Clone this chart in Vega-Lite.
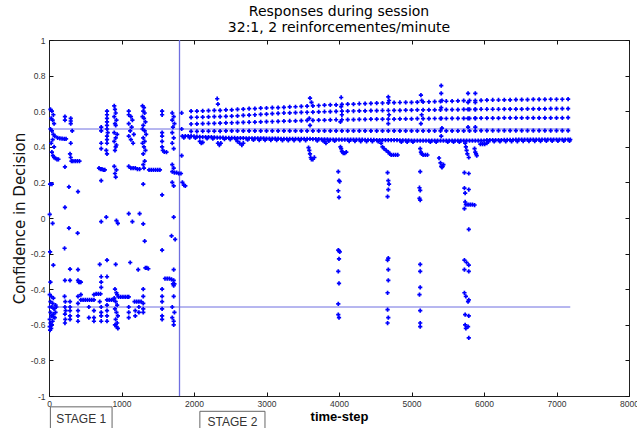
{
 "$schema": "https://vega.github.io/schema/vega-lite/v6.json",
 "width": 580, "height": 356,
 "autosize": {"type": "none"},
 "padding": {"left": 49, "top": 40, "right": 8, "bottom": 32},
 "background": "white",
 "config": {"view": {"stroke": "#222", "strokeWidth": 1}, "font": "Liberation Sans"},
 "title": {"text": "Responses during session", "subtitle": "32:1, 2 reinforcementes/minute", "font": "DejaVu Sans", "fontSize": 14, "fontWeight": "normal", "color": "#000", "subtitleFont": "DejaVu Sans", "subtitleFontSize": 14, "subtitleColor": "#000", "subtitlePadding": 2, "offset": 1, "anchor": "middle"},
 "datasets": {
  "one": [{}],
  "pts": [
   {"t":20,"c":0.61},{"t":40,"c":0.6},{"t":60,"c":0.58},{"t":30,"c":0.56},{"t":50,"c":0.55},{"t":70,"c":0.53},{"t":20,"c":0.5},{"t":40,"c":0.49},{"t":60,"c":0.47},{"t":80,"c":0.46},{"t":50,"c":0.44},{"t":30,"c":0.42},{"t":70,"c":0.4},
   {"t":120,"c":0.45},{"t":150,"c":0.448},{"t":180,"c":0.446},{"t":210,"c":0.445},{"t":235,"c":0.445},
   {"t":40,"c":0.37},{"t":55,"c":0.35},{"t":70,"c":0.34},{"t":90,"c":0.335},{"t":110,"c":0.33},{"t":130,"c":0.33},
   {"t":15,"c":0.19},{"t":40,"c":0.19},{"t":10,"c":0.02},{"t":50,"c":-0.03},{"t":15,"c":-0.19},{"t":60,"c":-0.265},{"t":20,"c":-0.36},
   {"t":10,"c":-0.43},{"t":30,"c":-0.44},{"t":60,"c":-0.45},{"t":20,"c":-0.47},{"t":50,"c":-0.48},{"t":90,"c":-0.49},{"t":10,"c":-0.5},{"t":40,"c":-0.5},{"t":70,"c":-0.51},{"t":100,"c":-0.5},{"t":20,"c":-0.53},{"t":60,"c":-0.54},{"t":30,"c":-0.55},{"t":80,"c":-0.56},{"t":10,"c":-0.57},{"t":50,"c":-0.58},{"t":20,"c":-0.59},{"t":40,"c":-0.6},{"t":10,"c":-0.61},{"t":30,"c":-0.62},{"t":15,"c":-0.63},{"t":60,"c":-0.555},{"t":90,"c":-0.53},
   {"t":220,"c":0.57},{"t":220,"c":0.55},{"t":220,"c":0.287},{"t":220,"c":0.06},{"t":215,"c":-0.17},{"t":220,"c":-0.35},{"t":215,"c":-0.44},{"t":225,"c":-0.47},{"t":220,"c":-0.5},{"t":230,"c":-0.52},{"t":220,"c":-0.54},{"t":225,"c":-0.57},{"t":220,"c":-0.59},
   {"t":300,"c":0.56},{"t":300,"c":0.545},{"t":300,"c":0.53},{"t":320,"c":0.49},{"t":300,"c":0.42},{"t":290,"c":0.36},{"t":300,"c":0.34},{"t":310,"c":0.32},{"t":330,"c":0.32},{"t":360,"c":0.32},{"t":390,"c":0.32},{"t":420,"c":0.32},
   {"t":275,"c":0.175},{"t":400,"c":0.148},{"t":275,"c":-0.057},{"t":395,"c":-0.085},{"t":290,"c":-0.287},{"t":400,"c":-0.29},{"t":290,"c":-0.35},{"t":400,"c":-0.35},{"t":410,"c":-0.36},{"t":425,"c":-0.36},{"t":440,"c":-0.36},
   {"t":290,"c":-0.47},{"t":290,"c":-0.5},{"t":290,"c":-0.52},{"t":290,"c":-0.55},{"t":290,"c":-0.57},{"t":400,"c":-0.44},{"t":400,"c":-0.48},{"t":400,"c":-0.52},{"t":400,"c":-0.55},{"t":400,"c":-0.58},
   {"t":440,"c":-0.46},{"t":470,"c":-0.46},{"t":500,"c":-0.46},{"t":530,"c":-0.46},{"t":560,"c":-0.46},{"t":590,"c":-0.46},{"t":620,"c":-0.46},{"t":440,"c":-0.43},{"t":620,"c":-0.43},{"t":650,"c":-0.426},{"t":680,"c":-0.426},{"t":710,"c":-0.426},{"t":620,"c":-0.52},{"t":620,"c":-0.56},{"t":620,"c":-0.58},{"t":550,"c":-0.5},{"t":550,"c":-0.56},
   {"t":720,"c":0.51},{"t":720,"c":0.49},{"t":720,"c":0.42},{"t":720,"c":0.39},{"t":690,"c":0.28},{"t":710,"c":0.275},{"t":730,"c":0.275},{"t":750,"c":0.27},{"t":770,"c":0.27},{"t":720,"c":0.21},{"t":720,"c":-0.02},{"t":700,"c":-0.26},{"t":720,"c":-0.33},{"t":720,"c":-0.36},{"t":720,"c":-0.39},{"t":720,"c":-0.5},{"t":720,"c":-0.53},{"t":720,"c":-0.55},{"t":720,"c":-0.58},{"t":700,"c":-0.47},
   {"t":800,"c":0.6},{"t":800,"c":0.58},{"t":800,"c":0.56},{"t":800,"c":0.54},{"t":800,"c":0.52},{"t":800,"c":0.5},{"t":810,"c":0.48},{"t":800,"c":0.46},{"t":800,"c":0.44},{"t":800,"c":0.42},{"t":790,"c":0.38},{"t":800,"c":0.36},{"t":790,"c":0.005},{"t":800,"c":-0.237},{"t":800,"c":-0.33},{"t":800,"c":-0.46},{"t":800,"c":-0.49},{"t":800,"c":-0.52},{"t":800,"c":-0.55},{"t":800,"c":-0.58},{"t":830,"c":-0.46},{"t":860,"c":-0.46},{"t":890,"c":-0.46},
   {"t":900,"c":0.63},{"t":910,"c":0.61},{"t":920,"c":0.59},{"t":900,"c":0.57},{"t":930,"c":0.55},{"t":910,"c":0.53},{"t":920,"c":0.52},{"t":900,"c":0.48},{"t":940,"c":0.47},{"t":920,"c":0.45},{"t":900,"c":0.43},{"t":930,"c":0.41},{"t":920,"c":0.4},{"t":910,"c":0.38},{"t":900,"c":0.29},{"t":930,"c":0.27},{"t":910,"c":0.25},{"t":920,"c":0.23},{"t":930,"c":-0.015},{"t":950,"c":-0.03},{"t":920,"c":-0.26},{"t":910,"c":-0.4},{"t":930,"c":-0.42},{"t":940,"c":-0.43},
   {"t":900,"c":-0.45},{"t":920,"c":-0.47},{"t":940,"c":-0.49},{"t":910,"c":-0.51},{"t":930,"c":-0.53},{"t":950,"c":-0.55},{"t":920,"c":-0.57},{"t":940,"c":-0.59},{"t":910,"c":-0.6},{"t":930,"c":-0.61},{"t":950,"c":-0.62},
   {"t":960,"c":-0.443},{"t":990,"c":-0.443},{"t":1020,"c":-0.443},{"t":1050,"c":-0.443},{"t":1080,"c":-0.443},{"t":1100,"c":-0.443},
   {"t":1100,"c":0.6},{"t":1100,"c":0.58},{"t":1130,"c":0.57},{"t":1150,"c":0.55},{"t":1100,"c":0.53},{"t":1140,"c":0.51},{"t":1120,"c":0.49},{"t":1170,"c":0.47},{"t":1100,"c":0.46},{"t":1130,"c":0.44},{"t":1160,"c":0.42},
   {"t":1100,"c":0.29},{"t":1130,"c":0.28},{"t":1160,"c":0.28},{"t":1190,"c":0.28},{"t":1220,"c":0.275},{"t":1250,"c":0.275},{"t":1100,"c":0.025},{"t":1150,"c":-0.02},{"t":1250,"c":0.025},{"t":1120,"c":-0.25},{"t":1230,"c":-0.29},
   {"t":1180,"c":-0.47},{"t":1210,"c":-0.47},{"t":1240,"c":-0.47},{"t":1270,"c":-0.47},{"t":1100,"c":-0.5},{"t":1100,"c":-0.53},{"t":1100,"c":-0.56},{"t":1190,"c":-0.52},{"t":1190,"c":-0.55},{"t":1240,"c":-0.5},{"t":1240,"c":-0.53},
   {"t":1290,"c":0.63},{"t":1310,"c":0.62},{"t":1300,"c":0.6},{"t":1320,"c":0.59},{"t":1290,"c":0.57},{"t":1310,"c":0.56},{"t":1330,"c":0.54},{"t":1300,"c":0.52},{"t":1290,"c":0.5},{"t":1320,"c":0.49},{"t":1340,"c":0.47},{"t":1300,"c":0.45},{"t":1320,"c":0.43},{"t":1290,"c":0.42},{"t":1310,"c":0.4},{"t":1330,"c":0.38},{"t":1300,"c":0.36},{"t":1320,"c":0.32},{"t":1300,"c":0.3},{"t":1310,"c":0.28},
   {"t":1300,"c":0.19},{"t":1300,"c":-0.033},{"t":1320,"c":-0.13},{"t":1330,"c":-0.28},{"t":1350,"c":-0.28},{"t":1370,"c":-0.285},{"t":1300,"c":-0.4},{"t":1300,"c":-0.44},{"t":1300,"c":-0.48},{"t":1300,"c":-0.51},{"t":1300,"c":-0.53},
   {"t":1380,"c":0.27},{"t":1410,"c":0.27},{"t":1440,"c":0.27},{"t":1470,"c":0.27},{"t":1500,"c":0.27},{"t":1530,"c":0.27},
   {"t":1560,"c":0.6},{"t":1560,"c":0.58},{"t":1560,"c":0.48},{"t":1560,"c":0.46},{"t":1560,"c":0.43},{"t":1560,"c":0.4},{"t":1570,"c":0.38},{"t":1590,"c":0.372},{"t":1620,"c":0.37},{"t":1560,"c":0.13},{"t":1560,"c":-0.18},
   {"t":1600,"c":-0.34},{"t":1630,"c":-0.34},{"t":1660,"c":-0.34},{"t":1690,"c":-0.345},{"t":1720,"c":-0.35},{"t":1560,"c":-0.4},{"t":1560,"c":-0.44},{"t":1560,"c":-0.47},{"t":1560,"c":-0.51},{"t":1560,"c":-0.55},{"t":1560,"c":-0.57},
   {"t":1700,"c":0.59},{"t":1720,"c":0.57},{"t":1700,"c":0.55},{"t":1730,"c":0.53},{"t":1710,"c":0.51},{"t":1700,"c":0.48},{"t":1720,"c":0.45},{"t":1700,"c":0.42},{"t":1720,"c":0.39},{"t":1700,"c":0.3},{"t":1720,"c":0.28},{"t":1700,"c":0.26},{"t":1730,"c":0.255},{"t":1760,"c":0.255},{"t":1790,"c":0.25},{"t":1820,"c":0.25},
   {"t":1700,"c":0.2},{"t":1720,"c":0.18},{"t":1720,"c":0.005},{"t":1690,"c":-0.1},{"t":1740,"c":-0.12},{"t":1720,"c":-0.29},{"t":1710,"c":-0.37},{"t":1730,"c":-0.37},{"t":1720,"c":-0.38},{"t":1720,"c":-0.44},{"t":1700,"c":-0.5},{"t":1730,"c":-0.53},{"t":1700,"c":-0.56},{"t":1720,"c":-0.58},{"t":1720,"c":-0.6},
   {"t":1830,"c":0.59},{"t":1830,"c":0.5},{"t":1830,"c":0.35},{"t":1840,"c":0.2},{"t":1860,"c":0.185},{"t":1880,"c":0.18},

   {"t":1840,"c":0.46},{"t":1880,"c":0.46},{"t":1920,"c":0.46},{"t":1960,"c":0.46},{"t":2000,"c":0.458},{"t":2040,"c":0.457},{"t":2080,"c":0.456},{"t":2120,"c":0.455},{"t":2160,"c":0.455},{"t":2200,"c":0.455},{"t":2240,"c":0.454},{"t":2280,"c":0.453},{"t":2320,"c":0.452},{"t":2360,"c":0.452},{"t":2400,"c":0.451},
   {"t":2440,"c":0.45},{"t":2480,"c":0.45},{"t":2520,"c":0.45},{"t":2560,"c":0.45},{"t":2600,"c":0.449},{"t":2640,"c":0.449},{"t":2680,"c":0.449},{"t":2720,"c":0.448},{"t":2760,"c":0.448},{"t":2800,"c":0.448},{"t":2840,"c":0.447},{"t":2880,"c":0.447},{"t":2920,"c":0.447},{"t":2960,"c":0.447},{"t":3000,"c":0.446},{"t":3040,"c":0.446},{"t":3080,"c":0.446},{"t":3120,"c":0.446},{"t":3160,"c":0.446},{"t":3200,"c":0.445},{"t":3240,"c":0.445},{"t":3280,"c":0.445},{"t":3320,"c":0.445},{"t":3360,"c":0.445},{"t":3400,"c":0.445},{"t":3440,"c":0.445},{"t":3480,"c":0.445},{"t":3520,"c":0.445},{"t":3560,"c":0.444},{"t":3600,"c":0.444},
   {"t":3640,"c":0.443},{"t":3680,"c":0.443},{"t":3720,"c":0.443},{"t":3760,"c":0.442},{"t":3800,"c":0.442},{"t":3840,"c":0.442},{"t":3880,"c":0.441},{"t":3920,"c":0.441},{"t":3960,"c":0.441},{"t":4000,"c":0.44},{"t":4040,"c":0.44},{"t":4080,"c":0.44},{"t":4120,"c":0.44},{"t":4160,"c":0.44},{"t":4200,"c":0.44},{"t":4240,"c":0.44},{"t":4280,"c":0.44},{"t":4320,"c":0.44},{"t":4360,"c":0.439},{"t":4400,"c":0.439},{"t":4440,"c":0.439},{"t":4480,"c":0.439},{"t":4520,"c":0.438},{"t":4560,"c":0.438},{"t":4600,"c":0.438},{"t":4640,"c":0.438},{"t":4680,"c":0.437},{"t":4720,"c":0.437},{"t":4760,"c":0.437},{"t":4800,"c":0.437},{"t":4840,"c":0.436},{"t":4880,"c":0.436},{"t":4920,"c":0.436},{"t":4960,"c":0.436},{"t":5000,"c":0.435},{"t":5040,"c":0.435},{"t":5080,"c":0.435},{"t":5120,"c":0.435},{"t":5160,"c":0.435},{"t":5200,"c":0.435},{"t":5240,"c":0.435},{"t":5280,"c":0.435},{"t":5320,"c":0.435},{"t":5360,"c":0.435},{"t":5400,"c":0.435},{"t":5440,"c":0.435},{"t":5480,"c":0.435},{"t":5520,"c":0.435},{"t":5560,"c":0.435},{"t":5600,"c":0.435},{"t":5640,"c":0.435},{"t":5680,"c":0.435},{"t":5720,"c":0.435},{"t":5760,"c":0.435},{"t":5800,"c":0.435},{"t":5840,"c":0.435},{"t":5880,"c":0.435},{"t":5920,"c":0.435},{"t":5960,"c":0.435},{"t":6000,"c":0.435},
   {"t":6040,"c":0.437},{"t":6080,"c":0.437},{"t":6120,"c":0.438},{"t":6160,"c":0.438},{"t":6200,"c":0.438},{"t":6240,"c":0.438},{"t":6280,"c":0.439},{"t":6320,"c":0.439},{"t":6360,"c":0.439},{"t":6400,"c":0.439},{"t":6440,"c":0.44},{"t":6480,"c":0.44},{"t":6520,"c":0.44},{"t":6560,"c":0.44},{"t":6600,"c":0.44},{"t":6640,"c":0.44},{"t":6680,"c":0.44},{"t":6720,"c":0.44},{"t":6760,"c":0.44},{"t":6800,"c":0.441},{"t":6840,"c":0.441},{"t":6880,"c":0.441},{"t":6920,"c":0.441},{"t":6960,"c":0.441},{"t":7000,"c":0.441},{"t":7040,"c":0.441},{"t":7080,"c":0.441},{"t":7120,"c":0.441},{"t":7160,"c":0.441},{"t":7190,"c":0.441},

   {"t":1860,"c":0.452},{"t":1940,"c":0.452},{"t":2020,"c":0.45},{"t":2180,"c":0.447},{"t":2260,"c":0.446},{"t":2420,"c":0.443},{"t":2500,"c":0.442},{"t":2580,"c":0.441},{"t":2740,"c":0.44},{"t":2820,"c":0.439},{"t":2900,"c":0.438},{"t":2980,"c":0.438},{"t":3060,"c":0.437},{"t":3140,"c":0.437},{"t":3220,"c":0.436},{"t":3300,"c":0.436},{"t":3380,"c":0.436},{"t":3460,"c":0.436},{"t":3540,"c":0.436},{"t":3700,"c":0.434},{"t":3780,"c":0.434},{"t":3860,"c":0.433},{"t":3940,"c":0.433},{"t":4140,"c":0.432},{"t":4220,"c":0.432},{"t":4300,"c":0.431},{"t":4380,"c":0.431},{"t":4460,"c":0.43},{"t":4540,"c":0.43},{"t":4860,"c":0.428},{"t":4940,"c":0.428},{"t":5020,"c":0.427},{"t":5260,"c":0.427},{"t":5340,"c":0.427},{"t":5500,"c":0.427},{"t":5580,"c":0.427},{"t":5660,"c":0.427},{"t":6060,"c":0.429},{"t":6140,"c":0.43},{"t":6220,"c":0.43},{"t":6300,"c":0.431},{"t":6380,"c":0.431},{"t":6460,"c":0.431},{"t":6540,"c":0.432},{"t":6620,"c":0.432},{"t":6700,"c":0.432},{"t":6780,"c":0.432},{"t":6860,"c":0.433},{"t":6940,"c":0.433},{"t":7020,"c":0.433},{"t":7100,"c":0.433},{"t":7180,"c":0.433},

   {"t":1960,"c":0.6},{"t":2040,"c":0.6},{"t":2120,"c":0.602},{"t":2200,"c":0.603},{"t":2280,"c":0.605},{"t":2360,"c":0.605},{"t":2440,"c":0.607},{"t":2520,"c":0.608},
   {"t":2600,"c":0.61},{"t":2680,"c":0.612},{"t":2760,"c":0.614},{"t":2840,"c":0.615},{"t":2920,"c":0.617},{"t":3000,"c":0.618},{"t":3080,"c":0.62},{"t":3160,"c":0.62},{"t":3240,"c":0.622},{"t":3320,"c":0.624},{"t":3400,"c":0.625},{"t":3480,"c":0.627},{"t":3560,"c":0.628},
   {"t":3640,"c":0.63},{"t":3720,"c":0.632},{"t":3800,"c":0.634},{"t":3880,"c":0.635},{"t":3960,"c":0.636},{"t":4040,"c":0.638},{"t":4120,"c":0.64},{"t":4200,"c":0.64},{"t":4280,"c":0.642},{"t":4360,"c":0.643},{"t":4440,"c":0.644},{"t":4520,"c":0.645},{"t":4600,"c":0.646},
   {"t":4680,"c":0.647},{"t":4760,"c":0.648},{"t":4840,"c":0.649},{"t":4920,"c":0.65},{"t":5000,"c":0.65},{"t":5080,"c":0.651},{"t":5160,"c":0.652},{"t":5240,"c":0.653},{"t":5320,"c":0.654},{"t":5400,"c":0.655},{"t":5480,"c":0.656},{"t":5560,"c":0.657},{"t":5640,"c":0.658},{"t":5720,"c":0.659},{"t":5800,"c":0.66},{"t":5880,"c":0.66},{"t":5960,"c":0.661},{"t":6040,"c":0.662},
   {"t":6120,"c":0.663},{"t":6200,"c":0.663},{"t":6280,"c":0.664},{"t":6360,"c":0.664},{"t":6440,"c":0.665},{"t":6520,"c":0.665},{"t":6600,"c":0.665},{"t":6680,"c":0.666},{"t":6760,"c":0.666},{"t":6840,"c":0.666},{"t":6920,"c":0.667},{"t":7000,"c":0.667},{"t":7080,"c":0.667},{"t":7160,"c":0.668},

   {"t":1960,"c":0.565},{"t":2040,"c":0.566},{"t":2120,"c":0.567},{"t":2200,"c":0.568},{"t":2280,"c":0.569},{"t":2360,"c":0.57},{"t":2440,"c":0.571},{"t":2520,"c":0.572},
   {"t":2600,"c":0.574},{"t":2680,"c":0.576},{"t":2760,"c":0.578},{"t":2840,"c":0.58},{"t":2920,"c":0.582},{"t":3000,"c":0.584},{"t":3080,"c":0.586},{"t":3160,"c":0.588},{"t":3240,"c":0.59},{"t":3320,"c":0.591},{"t":3400,"c":0.592},{"t":3480,"c":0.593},{"t":3560,"c":0.594},
   {"t":3640,"c":0.595},{"t":3720,"c":0.596},{"t":3800,"c":0.597},{"t":3880,"c":0.598},{"t":3960,"c":0.599},{"t":4040,"c":0.6},{"t":4120,"c":0.6},{"t":4200,"c":0.601},{"t":4280,"c":0.602},{"t":4360,"c":0.602},{"t":4440,"c":0.603},{"t":4520,"c":0.603},{"t":4600,"c":0.604},
   {"t":4680,"c":0.604},{"t":4760,"c":0.605},{"t":4840,"c":0.605},{"t":4920,"c":0.606},{"t":5000,"c":0.606},{"t":5080,"c":0.607},{"t":5160,"c":0.607},{"t":5240,"c":0.608},{"t":5320,"c":0.608},{"t":5400,"c":0.608},{"t":5480,"c":0.609},{"t":5560,"c":0.609},{"t":5640,"c":0.609},{"t":5720,"c":0.61},{"t":5800,"c":0.61},{"t":5880,"c":0.61},{"t":5960,"c":0.611},{"t":6040,"c":0.611},
   {"t":6120,"c":0.611},{"t":6200,"c":0.611},{"t":6280,"c":0.612},{"t":6360,"c":0.612},{"t":6440,"c":0.612},{"t":6520,"c":0.612},{"t":6600,"c":0.613},{"t":6680,"c":0.613},{"t":6760,"c":0.613},{"t":6840,"c":0.613},{"t":6920,"c":0.614},{"t":7000,"c":0.614},{"t":7080,"c":0.614},{"t":7160,"c":0.614},

   {"t":1960,"c":0.528},{"t":2040,"c":0.529},{"t":2120,"c":0.53},{"t":2200,"c":0.531},{"t":2280,"c":0.532},{"t":2360,"c":0.533},{"t":2440,"c":0.534},{"t":2520,"c":0.535},
   {"t":2600,"c":0.536},{"t":2680,"c":0.537},{"t":2760,"c":0.538},{"t":2840,"c":0.539},{"t":2920,"c":0.54},{"t":3000,"c":0.541},{"t":3080,"c":0.542},{"t":3160,"c":0.543},{"t":3240,"c":0.544},{"t":3320,"c":0.545},{"t":3400,"c":0.546},{"t":3480,"c":0.547},{"t":3560,"c":0.548},
   {"t":3640,"c":0.549},{"t":3720,"c":0.55},{"t":3800,"c":0.55},{"t":3880,"c":0.551},{"t":3960,"c":0.552},{"t":4040,"c":0.552},{"t":4120,"c":0.553},{"t":4200,"c":0.553},{"t":4280,"c":0.554},{"t":4360,"c":0.554},{"t":4440,"c":0.555},{"t":4520,"c":0.555},{"t":4600,"c":0.556},
   {"t":4680,"c":0.556},{"t":4760,"c":0.556},{"t":4840,"c":0.557},{"t":4920,"c":0.557},{"t":5000,"c":0.557},{"t":5080,"c":0.558},{"t":5160,"c":0.558},{"t":5240,"c":0.558},{"t":5320,"c":0.559},{"t":5400,"c":0.559},{"t":5480,"c":0.559},{"t":5560,"c":0.56},{"t":5640,"c":0.56},{"t":5720,"c":0.56},{"t":5800,"c":0.56},{"t":5880,"c":0.561},{"t":5960,"c":0.561},{"t":6040,"c":0.561},
   {"t":6120,"c":0.561},{"t":6200,"c":0.561},{"t":6280,"c":0.562},{"t":6360,"c":0.562},{"t":6440,"c":0.562},{"t":6520,"c":0.562},{"t":6600,"c":0.562},{"t":6680,"c":0.563},{"t":6760,"c":0.563},{"t":6840,"c":0.563},{"t":6920,"c":0.563},{"t":7000,"c":0.563},{"t":7080,"c":0.563},{"t":7160,"c":0.564},

   {"t":1960,"c":0.487},{"t":2040,"c":0.487},{"t":2120,"c":0.488},{"t":2200,"c":0.488},{"t":2280,"c":0.488},{"t":2360,"c":0.488},{"t":2440,"c":0.489},{"t":2520,"c":0.489},
   {"t":2600,"c":0.489},{"t":2680,"c":0.489},{"t":2760,"c":0.489},{"t":2840,"c":0.489},{"t":2920,"c":0.49},{"t":3000,"c":0.49},{"t":3080,"c":0.49},{"t":3160,"c":0.49},{"t":3240,"c":0.49},{"t":3320,"c":0.49},{"t":3400,"c":0.49},{"t":3480,"c":0.49},{"t":3560,"c":0.49},
   {"t":3640,"c":0.49},{"t":3720,"c":0.49},{"t":3800,"c":0.49},{"t":3880,"c":0.49},{"t":3960,"c":0.49},{"t":4040,"c":0.49},{"t":4120,"c":0.49},{"t":4200,"c":0.49},{"t":4280,"c":0.49},{"t":4360,"c":0.49},{"t":4440,"c":0.49},{"t":4520,"c":0.49},{"t":4600,"c":0.49},
   {"t":4680,"c":0.49},{"t":4760,"c":0.49},{"t":4840,"c":0.49},{"t":4920,"c":0.49},{"t":5000,"c":0.49},{"t":5080,"c":0.49},{"t":5160,"c":0.49},{"t":5240,"c":0.49},{"t":5320,"c":0.49},{"t":5400,"c":0.49},{"t":5480,"c":0.49},{"t":5560,"c":0.49},{"t":5640,"c":0.49},{"t":5720,"c":0.49},{"t":5800,"c":0.49},{"t":5880,"c":0.49},{"t":5960,"c":0.491},{"t":6040,"c":0.491},
   {"t":6120,"c":0.491},{"t":6200,"c":0.491},{"t":6280,"c":0.491},{"t":6360,"c":0.491},{"t":6440,"c":0.491},{"t":6520,"c":0.491},{"t":6600,"c":0.491},{"t":6680,"c":0.491},{"t":6760,"c":0.491},{"t":6840,"c":0.491},{"t":6920,"c":0.491},{"t":7000,"c":0.491},{"t":7080,"c":0.491},{"t":7160,"c":0.491},

   {"t":2320,"c":0.67},{"t":2330,"c":0.64},{"t":3600,"c":0.673},{"t":3620,"c":0.65},{"t":3590,"c":0.56},{"t":3600,"c":0.52},{"t":4030,"c":0.677},{"t":4030,"c":0.626},{"t":4040,"c":0.58},{"t":4020,"c":0.54},{"t":4680,"c":0.68},{"t":4690,"c":0.66},{"t":4690,"c":0.58},{"t":4680,"c":0.53},{"t":5130,"c":0.69},{"t":5140,"c":0.66},{"t":5140,"c":0.58},{"t":5130,"c":0.53},{"t":5410,"c":0.744},{"t":5410,"c":0.7},{"t":5420,"c":0.66},{"t":5410,"c":0.62},{"t":5410,"c":0.56},{"t":5420,"c":0.505},{"t":5410,"c":0.46},{"t":5780,"c":0.7},{"t":5780,"c":0.65},{"t":5780,"c":0.61},{"t":5780,"c":0.56},{"t":5780,"c":0.51},{"t":5880,"c":0.7},{"t":5880,"c":0.65},{"t":5880,"c":0.61},{"t":5880,"c":0.56},{"t":5880,"c":0.51},

   {"t":2080,"c":0.43},{"t":2100,"c":0.42},{"t":2120,"c":0.425},{"t":2330,"c":0.42},{"t":2350,"c":0.41},{"t":2370,"c":0.42},{"t":2600,"c":0.43},{"t":2630,"c":0.42},{"t":2660,"c":0.41},{"t":2680,"c":0.42},{"t":3580,"c":0.395},{"t":3590,"c":0.38},{"t":3600,"c":0.36},{"t":3610,"c":0.34},{"t":3620,"c":0.33},{"t":3640,"c":0.33},{"t":3660,"c":0.34},{"t":3800,"c":0.43},{"t":3820,"c":0.42},{"t":4020,"c":0.4},{"t":4030,"c":0.39},{"t":4040,"c":0.375},{"t":4050,"c":0.37},{"t":4060,"c":0.365},{"t":4080,"c":0.365},{"t":4100,"c":0.37},{"t":4580,"c":0.42},{"t":4600,"c":0.4},{"t":4620,"c":0.39},{"t":4650,"c":0.38},{"t":4680,"c":0.37},{"t":4700,"c":0.36},{"t":4720,"c":0.355},{"t":4750,"c":0.354},{"t":4780,"c":0.354},{"t":4810,"c":0.354},{"t":5120,"c":0.39},{"t":5130,"c":0.37},{"t":5140,"c":0.36},{"t":5160,"c":0.355},{"t":5190,"c":0.354},{"t":5220,"c":0.354},{"t":5380,"c":0.337},{"t":5400,"c":0.31},{"t":5410,"c":0.29},{"t":5420,"c":0.285},{"t":5430,"c":0.29},{"t":5440,"c":0.3},{"t":5740,"c":0.42},{"t":5750,"c":0.4},{"t":5760,"c":0.38},{"t":5770,"c":0.36},{"t":5790,"c":0.34},{"t":5870,"c":0.39},{"t":5880,"c":0.37},{"t":5890,"c":0.36},{"t":5900,"c":0.35},{"t":5950,"c":0.415},{"t":5980,"c":0.415},{"t":6010,"c":0.415},{"t":6040,"c":0.42},

   {"t":3990,"c":0.26},{"t":4000,"c":0.21},{"t":4010,"c":0.205},{"t":3990,"c":0.153},{"t":4000,"c":0.116},{"t":3990,"c":-0.18},{"t":4000,"c":-0.185},{"t":4010,"c":-0.19},{"t":4000,"c":-0.23},{"t":3990,"c":-0.3},{"t":4000,"c":-0.367},{"t":3990,"c":-0.482},{"t":3990,"c":-0.543},{"t":4000,"c":-0.56},
   {"t":4670,"c":0.255},{"t":4680,"c":0.21},{"t":4690,"c":0.19},{"t":4680,"c":0.159},{"t":4670,"c":0.12},{"t":4680,"c":-0.225},{"t":4670,"c":-0.237},{"t":4680,"c":-0.29},{"t":4680,"c":-0.35},{"t":4670,"c":-0.42},{"t":4670,"c":-0.515},{"t":4680,"c":-0.56},{"t":4670,"c":-0.59},
   {"t":5120,"c":0.26},{"t":5110,"c":0.17},{"t":5120,"c":0.155},{"t":5110,"c":0.11},{"t":5120,"c":0.1},{"t":5120,"c":-0.26},{"t":5120,"c":-0.3},{"t":5120,"c":-0.39},{"t":5110,"c":-0.43},{"t":5120,"c":-0.52},{"t":5120,"c":-0.59},{"t":5120,"c":-0.61},
   {"t":5730,"c":0.255},{"t":5790,"c":0.25},{"t":5730,"c":0.168},{"t":5790,"c":0.16},{"t":5740,"c":0.14},{"t":5740,"c":0.09},{"t":5750,"c":0.075},{"t":5780,"c":0.075},{"t":5810,"c":0.075},{"t":5840,"c":0.075},{"t":5870,"c":0.073},{"t":5730,"c":0.053},{"t":5790,"c":-0.064},{"t":5730,"c":-0.237},{"t":5760,"c":-0.25},{"t":5790,"c":-0.265},{"t":5730,"c":-0.29},{"t":5790,"c":-0.3},{"t":5730,"c":-0.42},{"t":5750,"c":-0.44},{"t":5780,"c":-0.47},{"t":5790,"c":-0.46},{"t":5740,"c":-0.543},{"t":5790,"c":-0.55},{"t":5740,"c":-0.6},{"t":5780,"c":-0.61},{"t":5750,"c":-0.62},{"t":5790,"c":-0.673}
  ]
 },
 "layer": [
  {
   "data": {"name": "one"},
   "mark": {"type": "rule", "color": "#6f6fe0", "strokeWidth": 1},
   "encoding": {
    "x": {"datum": 0, "type": "quantitative", "scale": {"domain": [0, 8000], "nice": false, "zero": false}, "axis": {"orient": "top", "offset": -4, "labels": false, "title": null, "values": [0,1000,2000,3000,4000,5000,6000,7000,8000], "tickSize": 4, "tickWidth": 1, "tickColor": "#111", "domain": false, "grid": false}},
    "x2": {"datum": 7190},
    "y": {"datum": 0.5, "type": "quantitative", "scale": {"domain": [-1, 1], "nice": false, "zero": false}, "axis": {"orient": "right", "offset": -4, "labels": false, "title": null, "values": [-1,-0.8,-0.6,-0.4,-0.2,0,0.2,0.4,0.6,0.8,1], "tickSize": 4, "tickWidth": 1, "tickColor": "#111", "domain": false, "grid": false}}
   }
  },
  {
   "data": {"name": "one"},
   "mark": {"type": "rule", "color": "#6f6fe0", "strokeWidth": 1},
   "encoding": {
    "x": {"datum": 0, "type": "quantitative", "axis": null},
    "x2": {"datum": 7190},
    "y": {"datum": -0.5, "type": "quantitative", "axis": null}
   }
  },
  {
   "data": {"name": "one"},
   "mark": {"type": "rule", "color": "#6f6fe0", "strokeWidth": 1.3},
   "encoding": {
    "x": {"datum": 1800, "type": "quantitative", "axis": null},
    "y": {"datum": -1, "type": "quantitative", "axis": null},
    "y2": {"datum": 1}
   }
  },
  {
   "data": {"name": "pts"},
   "mark": {"type": "point", "shape": "cross", "filled": true, "size": 18, "color": "#0000ff", "opacity": 1},
   "encoding": {
    "x": {"field": "t", "type": "quantitative", "axis": {"orient": "bottom", "offset": -4, "values": [0,1000,2000,3000,4000,5000,6000,7000,8000], "format": "d", "title": "time-step", "domain": false, "grid": false, "tickSize": 4, "tickWidth": 1, "tickColor": "#111", "labelPadding": 3, "labelFont": "Liberation Sans", "labelFontSize": 8.5, "labelColor": "#333", "labelFlush": false, "labelOverlap": false, "titleFont": "Liberation Sans", "titleFontSize": 13, "titleFontWeight": "bold", "titleColor": "#000", "titlePadding": 3}},
    "y": {"field": "c", "type": "quantitative", "axis": {"orient": "left", "offset": -4, "values": [-1,-0.8,-0.6,-0.4,-0.2,0,0.2,0.4,0.6,0.8,1], "labelExpr": "datum.value < 0 ? '-' + format(-datum.value, '~g') : format(datum.value, '~g')", "title": "Confidence in Decision", "domain": false, "grid": false, "tickSize": 4, "tickWidth": 1, "tickColor": "#111", "labelPadding": 4, "labelFont": "Liberation Sans", "labelFontSize": 8.5, "labelColor": "#333", "labelFlush": false, "labelOverlap": false, "titleFont": "DejaVu Sans", "titleFontSize": 15, "titleFontWeight": "normal", "titleColor": "#111", "titlePadding": 3}}
   }
  },
  {
   "data": {"name": "one"},
   "mark": {"type": "rect", "fill": "white", "stroke": "#666", "strokeWidth": 1},
   "encoding": {
    "x": {"datum": 19, "type": "quantitative", "axis": null},
    "x2": {"datum": 870},
    "y": {"datum": -1.061, "type": "quantitative", "axis": null},
    "y2": {"datum": -1.25}
   }
  },
  {
   "data": {"name": "one"},
   "mark": {"type": "rect", "fill": "white", "stroke": "#666", "strokeWidth": 1},
   "encoding": {
    "x": {"datum": 2081, "type": "quantitative", "axis": null},
    "x2": {"datum": 2979},
    "y": {"datum": -1.086, "type": "quantitative", "axis": null},
    "y2": {"datum": -1.25}
   }
  },
  {
   "data": {"name": "one"},
   "mark": {"type": "text", "text": "STAGE 1", "font": "Liberation Sans", "fontSize": 12, "color": "#333", "align": "center", "baseline": "middle"},
   "encoding": {
    "x": {"datum": 445, "type": "quantitative", "axis": null},
    "y": {"datum": -1.127, "type": "quantitative", "axis": null}
   }
  },
  {
   "data": {"name": "one"},
   "mark": {"type": "text", "text": "STAGE 2", "font": "Liberation Sans", "fontSize": 12, "color": "#333", "align": "center", "baseline": "middle"},
   "encoding": {
    "x": {"datum": 2530, "type": "quantitative", "axis": null},
    "y": {"datum": -1.147, "type": "quantitative", "axis": null}
   }
  }
 ],
 "resolve": {"axis": {"x": "independent", "y": "independent"}}
}
